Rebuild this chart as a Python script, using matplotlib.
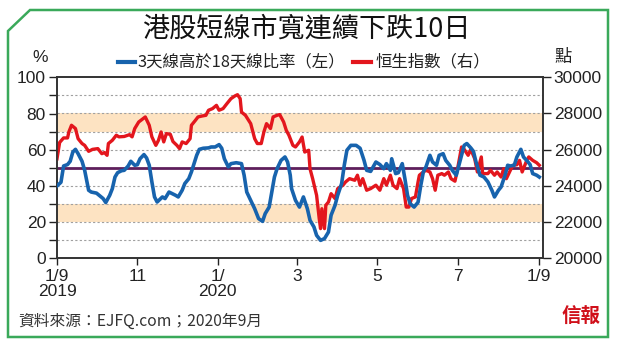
import numpy as np
import matplotlib
matplotlib.use("Agg")
import matplotlib.pyplot as plt
from matplotlib.lines import Line2D
from matplotlib.patches import Polygon

plt.rcParams['font.family'] = ['Liberation Sans', 'Noto Sans CJK TC', 'DejaVu Sans']
CJK = ['Noto Sans CJK TC', 'DejaVu Sans']

start_date = "2019-09-01"

# 3-day line above 18-day line ratio (%), days since 2019-09-01
breadth_days = [0, 3, 5, 8, 10, 12, 14, 16, 19, 21, 24, 26, 30, 32, 35, 37, 40, 42, 44, 46,
                49, 51, 54, 56, 59, 61, 63, 66, 68, 70, 72, 74, 76, 80, 82, 85, 88, 90, 92, 95,
                97, 100, 102, 104, 106, 108, 111, 115, 117, 120, 123, 125, 127, 130, 132, 136,
                140, 142, 144, 147, 150, 153, 156, 158, 161, 163, 165, 167, 170, 173, 175, 177,
                178, 181, 184, 187, 190, 192, 195, 197, 200, 203, 206, 208, 211, 213, 216, 218,
                220, 223, 227, 230, 233, 235, 238, 242, 245, 248, 250, 253, 254, 257, 259, 262,
                264, 266, 268, 271, 274, 276, 278, 280, 283, 285, 288, 290, 293, 295, 298, 300,
                303, 305, 307, 309, 311, 314, 316, 318, 321, 324, 327, 330, 332, 335, 337, 340,
                342, 344, 347, 349, 352, 354, 357, 359, 361, 364, 366]
breadth_pct = [40, 42, 51, 51.8, 53.6, 58.7, 60.2, 57.8, 53.6, 48.6, 37.6, 36.6, 36, 34.8, 33,
               30.8, 34.8, 38.5, 44.9, 47.3, 48.4, 48.6, 51, 53.6, 51.4, 51.7, 55, 57.3, 55.4,
               51.4, 42.2, 33.9, 31.1, 33.9, 33, 36.6, 35.5, 34.8, 33.9, 37.6, 41.3, 44, 47.7,
               52.3, 56.9, 60.2, 60.8, 61, 61.5, 61.5, 62.8, 60.8, 55, 50.5, 52.3, 52.8, 52.3,
               45.9, 36.6, 32, 27.4, 21.9, 20.4, 24.7, 28.3, 36.6, 44.9, 49.5, 54.1, 56, 53.2,
               45.9, 38.5, 32, 28.3, 33.9, 27.4, 21, 17.3, 12.7, 9.9, 10.9, 14.5, 23.8, 29.3,
               34.8, 41.3, 51.4, 59.7, 62.4, 62.4, 60.8, 54.1, 48.6, 48, 53.2, 51.8, 49.5, 52.3,
               48.6, 55, 46.8, 47.3, 52.3, 44, 34.8, 30.2, 28.3, 31, 40, 47.7, 50.5, 56.9,
               53.2, 51.4, 56.9, 57.8, 54.1, 51.4, 48.6, 45.9, 51.4, 56.9, 62.4, 63.4, 61,
               59.1, 53.2, 45.9, 44.9, 42.2, 37.6, 33.9, 37.6, 39.4, 45.9, 51.4, 51, 51.4, 56,
               60.2, 56, 53.6, 51.8, 46.8, 45.9, 44.9]

# Hang Seng Index (points), days since 2019-09-01
hsi_days = [0, 2, 5, 8, 9, 11, 14, 16, 19, 21, 24, 27, 31, 34, 36, 38, 39, 42, 45, 47, 51, 55,
            57, 59, 62, 67, 70, 72, 75, 77, 79, 81, 83, 86, 88, 91, 93, 95, 98, 101, 102, 105,
            107, 110, 113, 115, 118, 121, 123, 126, 129, 132, 135, 137, 139, 140, 143, 147,
            150, 152, 155, 157, 159, 162, 164, 167, 169, 172, 174, 176, 179, 181, 184, 186,
            188, 191, 192, 194, 197, 199, 200, 201, 203, 204, 206, 208, 211, 213, 217, 219,
            222, 226, 228, 230, 232, 235, 238, 242, 245, 248, 250, 253, 255, 258, 260, 263,
            265, 267, 269, 272, 274, 275, 278, 280, 283, 285, 287, 289, 292, 294, 297, 299,
            302, 304, 307, 309, 312, 314, 317, 319, 322, 323, 327, 329, 332, 334, 337, 339,
            341, 344, 346, 349, 351, 353, 356, 358, 361, 364, 366]
hsi_pts = [25500, 26400, 26650, 26650, 26980, 27350, 27170, 26610, 26340, 26240, 25910, 26020,
           26060, 25780, 25840, 25690, 26340, 26520, 26800, 26710, 26730, 26830, 26710, 27170,
           27530, 27810, 27350, 26710, 26240, 26520, 26980, 26430, 26890, 26850, 26450, 26240,
           26060, 26430, 26340, 26610, 27350, 27620, 27810, 27860, 27900, 28180, 28270, 28450,
           28180, 28270, 28550, 28820, 28970, 29040, 28820, 28080, 27900, 27440, 26610, 26340,
           26340, 26980, 27440, 27170, 27810, 27900, 27940, 27530, 27070, 26800, 26240, 26150,
           26430, 26700, 25870, 25970, 24950, 24400, 23480, 22190, 21640, 22740, 21640, 22930,
           23110, 23570, 23300, 23850, 24040, 24220, 24400, 24310, 24590, 24040, 24400, 23760,
           23850, 24040, 23760, 24400, 24040, 24590, 24040, 23850, 24400, 23850, 22830, 22830,
           23300, 23390, 24220, 24590, 24770, 24860, 24770, 24400, 23760, 24590, 24680, 24590,
           24770, 24400, 24260, 24950, 26150, 26020, 25690, 26020, 25500, 24770, 25600, 24680,
           24680, 24860, 24590, 24770, 24490, 24950, 24400, 24860, 25140, 25170, 25410, 24770,
           25320, 25600, 25410, 25280, 25140]

tick_dates = ["2019-09-01", "2019-11-01", "2020-01-01", "2020-03-01", "2020-05-01",
              "2020-07-01", "2020-09-01"]
tick_labels = ["1/9\n2019", "11", "1/\n2020", "3", "5", "7", "1/9"]
left_ticks = [0, 10, 20, 30, 40, 50, 60, 70, 80, 90, 100]
right_ticks = [20000, 22000, 24000, 26000, 28000, 30000]

title = "港股短線市寬連續下跌10日"
legend_blue = "3天線高於18天線比率（左）"
legend_red = "恒生指數（右）"
source = "資料來源：EJFQ.com；2020年9月"

W, H = 620, 348
fig = plt.figure(figsize=(W / 100, H / 100), dpi=100, facecolor='white')

def fx(px):
    return px / W

def fy(py):
    return 1 - py / H

ax_l, ax_r, ax_t, ax_b = 57, 542.7, 77.3, 258.3
rect = [fx(ax_l), fy(ax_b), fx(ax_r) - fx(ax_l), fy(ax_t) - fy(ax_b)]
ax2 = fig.add_axes(rect)               # index axis (underneath)
ax = fig.add_axes(rect, sharex=ax2)    # percent axis (on top)
ax.set_zorder(ax2.get_zorder() + 1)
ax.patch.set_visible(False)
ax2.patch.set_visible(False)

base = np.datetime64(start_date)
bx = base + np.array(breadth_days).astype('timedelta64[D]')
hx = base + np.array(hsi_days).astype('timedelta64[D]')

blue = '#1763ad'
red = '#e3161d'

ax2.set_ylim(20000, 30000)
ax2.axhspan(27000, 28000, color='#fde3c2', lw=0, zorder=0)
ax2.axhspan(22000, 23000, color='#fde3c2', lw=0, zorder=0)
for v in [21000, 22000, 23000, 24000, 26000, 27000, 28000, 29000]:
    ax2.axhline(v, color='#a0a0a0', lw=0.8, ls=(0, (2, 2)), zorder=1)
ax2.axhline(25000, color='#5e1f5c', lw=2.0, zorder=2)
ax2.plot(hx, hsi_pts, color=red, lw=2.4, zorder=3, solid_joinstyle='round')

ax.plot(bx, breadth_pct, color=blue, lw=2.6, zorder=4, solid_joinstyle='round')
ax.set_ylim(0, 100)
ax.set_xlim(np.datetime64(start_date), np.datetime64("2020-09-03") + np.timedelta64(14, 'h'))

ax.set_yticks(left_ticks)
ax.set_yticklabels([str(t) if t % 20 == 0 else "" for t in left_ticks])
ax.tick_params(axis='y', direction='out', length=6, width=1.0, labelsize=12.5, pad=2,
               colors='#222222', left=True, right=False, labelleft=True, labelright=False)
ax.set_xticks([np.datetime64(d) for d in tick_dates])
ax.set_xticklabels(tick_labels)
ax.tick_params(axis='x', direction='out', length=5, width=1.0, labelsize=12.5, pad=3,
               colors='#222222')
for lab in ax.get_xticklabels():
    lab.set_linespacing(1.0)
ax2.tick_params(axis='x', bottom=False, labelbottom=False)

ax2.yaxis.tick_right()
ax2.set_yticks(right_ticks)
ax2.set_yticklabels([str(t) for t in right_ticks])
ax2.tick_params(axis='y', direction='out', length=6, width=1.0, labelsize=12.5, pad=2,
                colors='#222222', left=False, right=True, labelleft=False, labelright=True)

for a in (ax, ax2):
    for s in a.spines.values():
        s.set_color('#333333')
        s.set_linewidth(1.2)

fig.text(fx(40), fy(58), "%", ha='center', va='center', fontsize=12.5, color='#222222')
fig.text(fx(563), fy(57), "點", ha='center', va='center', fontsize=12.5, color='#222222',
         family=CJK)

fig.text(fx(306), fy(29), title, ha='center', va='center', fontsize=19.5, color='#111111',
         family=CJK)

fig.add_artist(Line2D([fx(118), fx(135)], [fy(62), fy(62)], color=blue, lw=3,
                      transform=fig.transFigure))
fig.text(fx(138), fy(62), legend_blue, ha='left', va='center', fontsize=11.8,
         color='#222222', family=CJK)
fig.add_artist(Line2D([fx(353), fx(371)], [fy(62), fy(62)], color=red, lw=3,
                      transform=fig.transFigure))
fig.text(fx(376), fy(62), legend_red, ha='left', va='center', fontsize=11.8,
         color='#222222', family=CJK)

fig.text(fx(18), fy(321), source, ha='left', va='center', fontsize=11.3, color='#333333',
         family=CJK)
fig.text(fx(600), fy(317), "信報", ha='right', va='center', fontsize=14, color='#d0101a',
         family=CJK, fontweight='bold')

frame = Polygon([(fx(8), fy(31)), (fx(30), fy(10)), (fx(608), fy(10)), (fx(608), fy(337)),
                 (fx(8), fy(337))], closed=True, fill=False, edgecolor='#3aa95a', lw=1.8,
                transform=fig.transFigure)
fig.add_artist(frame)

fig.savefig("out.png", dpi=100, facecolor='white')
